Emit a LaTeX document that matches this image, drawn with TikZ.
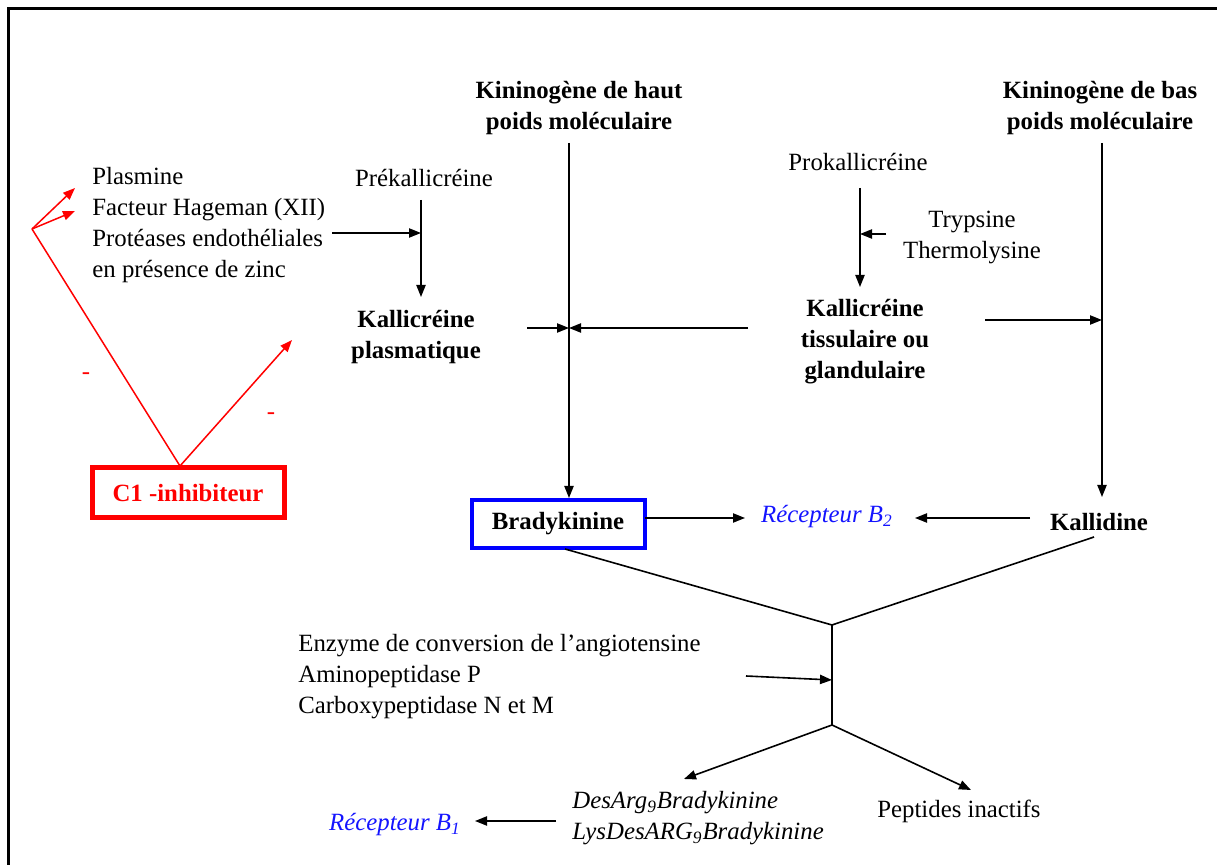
\documentclass[tikz,border=0pt]{standalone}
\usepackage{fontspec}
\setmainfont{Liberation Serif}
\usetikzlibrary{arrows.meta}
\definecolor{recblue}{RGB}{20,20,255}
\tikzset{
  txt/.style={font=\fontsize{12.4pt}{15.5pt}\selectfont, inner sep=0pt, align=center},
  boldtxt/.style={txt, font=\fontsize{12.4pt}{15.5pt}\selectfont\bfseries},
  rectxt/.style={txt, text=recblue, font=\fontsize{12.4pt}{15.5pt}\selectfont\itshape},
  link/.style={draw=black, line width=0.8pt},
  arr/.style={link, -{Triangle[length=6pt,width=4.6pt]}},
  inhib/.style={draw=red, line width=0.75pt},
  inhibarr/.style={inhib, -{Triangle[length=6pt,width=4.6pt]}},
}
\begin{document}
\begin{tikzpicture}[x=0.5pt,y=-0.5pt]
\useasboundingbox (0,0) rectangle (1217,865);
\clip (0,0) rectangle (1217,865);
% page frame
\draw[line width=1.5pt] (8,900) -- (8,9) -- (1240,9);

% precursors and enzymes
\node[boldtxt] (hmw) at (579,108) {Kininogène de haut\\poids moléculaire};
\node[boldtxt] (lmw) at (1100,108) {Kininogène de bas\\poids moléculaire};
\node[txt] (prek) at (424,178) {Prékallicréine};
\node[boldtxt] (kplas) at (416,337) {Kallicréine\\plasmatique};
\node[txt] (prok) at (858,162) {Prokallicréine};
\node[txt] (tryp) at (972,237) {Trypsine\\Thermolysine};
\node[boldtxt] (ktis) at (865,342) {Kallicréine\\tissulaire ou\\glandulaire};
\node[txt, align=left, anchor=west] (activ) at (92,225.5)
  {Plasmine\\Facteur Hageman (XII)\\Protéases endothéliales\\en présence de zinc};

% kinins and receptors
\node[boldtxt, draw=blue, line width=2pt, minimum width=86.5pt, minimum height=24pt] (brady) at (558,524) {Bradykinine};
\node[boldtxt] (kallid) at (1099,522) {Kallidine};
\node[rectxt] (b2) at (827,517) {Récepteur B\textsubscript{2}};
\node[txt, align=left, anchor=west, font=\fontsize{12.4pt}{15.5pt}\selectfont\itshape] (desarg) at (572,818.5)
  {DesArg\textsubscript{9}Bradykinine\\LysDesARG\textsubscript{9}Bradykinine};
\node[rectxt] (b1) at (395,825) {Récepteur B\textsubscript{1}};
\node[txt] (pept) at (959,811) {Peptides inactifs};
\node[txt, align=left, anchor=west] (enz) at (298,677)
  {Enzyme de conversion de l’angiotensine\\Aminopeptidase P\\Carboxypeptidase N et M};

% inhibitor
\node[boldtxt, text=red, draw=red, line width=2.5pt, minimum width=96pt, minimum height=25pt] (c1) at (188,493) {C1 -inhibiteur};
\node[txt, text=red] (m1) at (86,376) {-};
\node[txt, text=red] (m2) at (271,416) {-};

% points on the connectors
\coordinate (hmwfoot) at (569,143);
\coordinate (lmwfoot) at (1102,143);
\coordinate (kaTop) at (1102,497);
\coordinate (pkA) at (421,200);
\coordinate (pkB) at (421,297);
\coordinate (actA) at (332,233);
\coordinate (kpA) at (527,328);
\coordinate (ktA) at (748,328);
\coordinate (hmwmid) at (569,328);
\coordinate (prA) at (860,188);
\coordinate (prB) at (860,287);
\coordinate (trA) at (886,234);
\coordinate (kt2) at (985,320);
\coordinate (lmwmid) at (1102,320);
\coordinate (brA) at (645,518);
\coordinate (b2L) at (745,518);
\coordinate (kaA) at (1030,518);
\coordinate (b2R) at (915,518);
\coordinate (brB) at (565,549);
\coordinate (kaB) at (1094,537);
\coordinate (join) at (832,625);
\coordinate (split) at (832,725);
\coordinate (enzA) at (746,676);
\coordinate (enzB) at (832,680);
\coordinate (daTip) at (684,779);
\coordinate (peTip) at (971,790);
\coordinate (daA) at (556,821);
\coordinate (b1R) at (475,821);
\coordinate (fork) at (32,229);
\coordinate (c1top) at (180,466);
\coordinate (plTip) at (75,188);
\coordinate (fhTip) at (75,211);
\coordinate (kpTip) at (292,340);

% cascade
\draw[arr] (hmwfoot) -- (hmwfoot |- brady.north);
\draw[arr] (lmwfoot) -- (kaTop);
\draw[arr] (pkA) -- (pkB);
\draw[arr] (actA) -- (actA -| pkA);
\draw[arr] (kpA) -- (hmwmid);
\draw[arr] (ktA) -- (hmwmid);
\draw[arr] (prA) -- (prB);
\draw[arr] (trA) -- (trA -| prA);
\draw[arr] (kt2) -- (lmwmid);
\draw[arr] (brA) -- (b2L);
\draw[arr] (kaA) -- (b2R);
\draw[link] (brB) -- (join) -- (kaB);
\draw[link] (join) -- (split);
\draw[arr] (enzA) -- (enzB);
\draw[arr] (split) -- (daTip);
\draw[arr] (split) -- (peTip);
\draw[arr] (daA) -- (b1R);

% inhibition by C1-inhibitor
\draw[inhib] (c1top) -- (fork);
\draw[inhibarr] (fork) -- (plTip);
\draw[inhibarr] (fork) -- (fhTip);
\draw[inhibarr] (c1top) -- (kpTip);
\end{tikzpicture}
\end{document}
